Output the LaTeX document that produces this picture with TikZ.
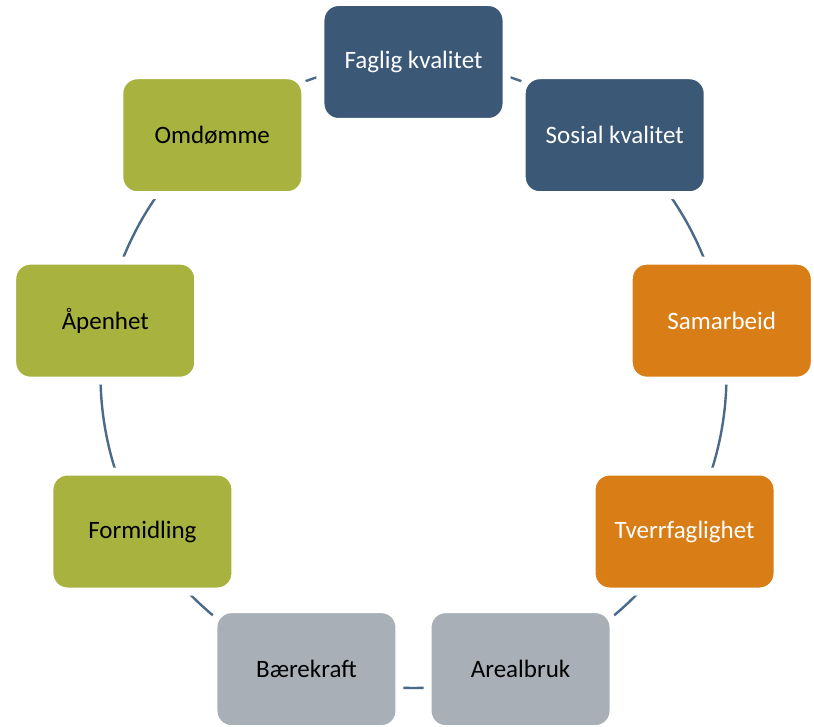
\documentclass[tikz,border=0pt]{standalone}
\usepackage{fontspec}
\setmainfont{Carlito}
\usetikzlibrary{backgrounds}
\definecolor{cblue}{HTML}{3B5877}
\definecolor{corange}{HTML}{D97D17}
\definecolor{cgray}{HTML}{A9AFB6}
\definecolor{colive}{HTML}{A7B23F}
\definecolor{cline}{HTML}{4A6A8C}
\begin{document}
\begin{tikzpicture}[x=1pt,y=1pt,
  box/.style={rounded corners=18pt,minimum width=186pt,minimum height=120pt,inner sep=0pt,draw=white,line width=8pt,font=\fontsize{25}{30}\selectfont},
  bluebox/.style={box,fill=cblue,text=white},
  orangebox/.style={box,fill=corange,text=white},
  graybox/.style={box,fill=cgray,text=black},
  olivebox/.style={box,fill=colive,text=black},
  conn/.style={draw=cline,line width=2.4pt,bend left=20,looseness=0.88}]
\useasboundingbox (-413.5,-351) rectangle (400.5,375);
\node[bluebox]   (n1) at (90:313pt)   {Faglig kvalitet};
\node[bluebox]   (n2) at (50:313pt)   {Sosial kvalitet};
\node[orangebox] (n3) at (10:313pt)   {Samarbeid};
\node[orangebox] (n4) at (-30:313pt)  {Tverrfaglighet};
\node[graybox]   (n5) at (-70:313pt)  {Arealbruk};
\node[graybox]   (n6) at (-110:313pt) {Bærekraft};
\node[olivebox]  (n7) at (-150:313pt) {Formidling};
\node[olivebox]  (n8) at (170:313pt)  {Åpenhet};
\node[olivebox]  (n9) at (130:313pt)  {Omdømme};
\begin{scope}[on background layer]
\draw[conn] (n1.center) to (n2.center);
\draw[conn] (n2.center) to (n3.center);
\draw[conn] (n3.center) to (n4.center);
\draw[conn] (n4.center) to (n5.center);
\draw[conn] (n5.center) to (n6.center);
\draw[conn] (n6.center) to (n7.center);
\draw[conn] (n7.center) to (n8.center);
\draw[conn] (n8.center) to (n9.center);
\draw[conn] (n9.center) to (n1.center);
\end{scope}
\end{tikzpicture}
\end{document}
